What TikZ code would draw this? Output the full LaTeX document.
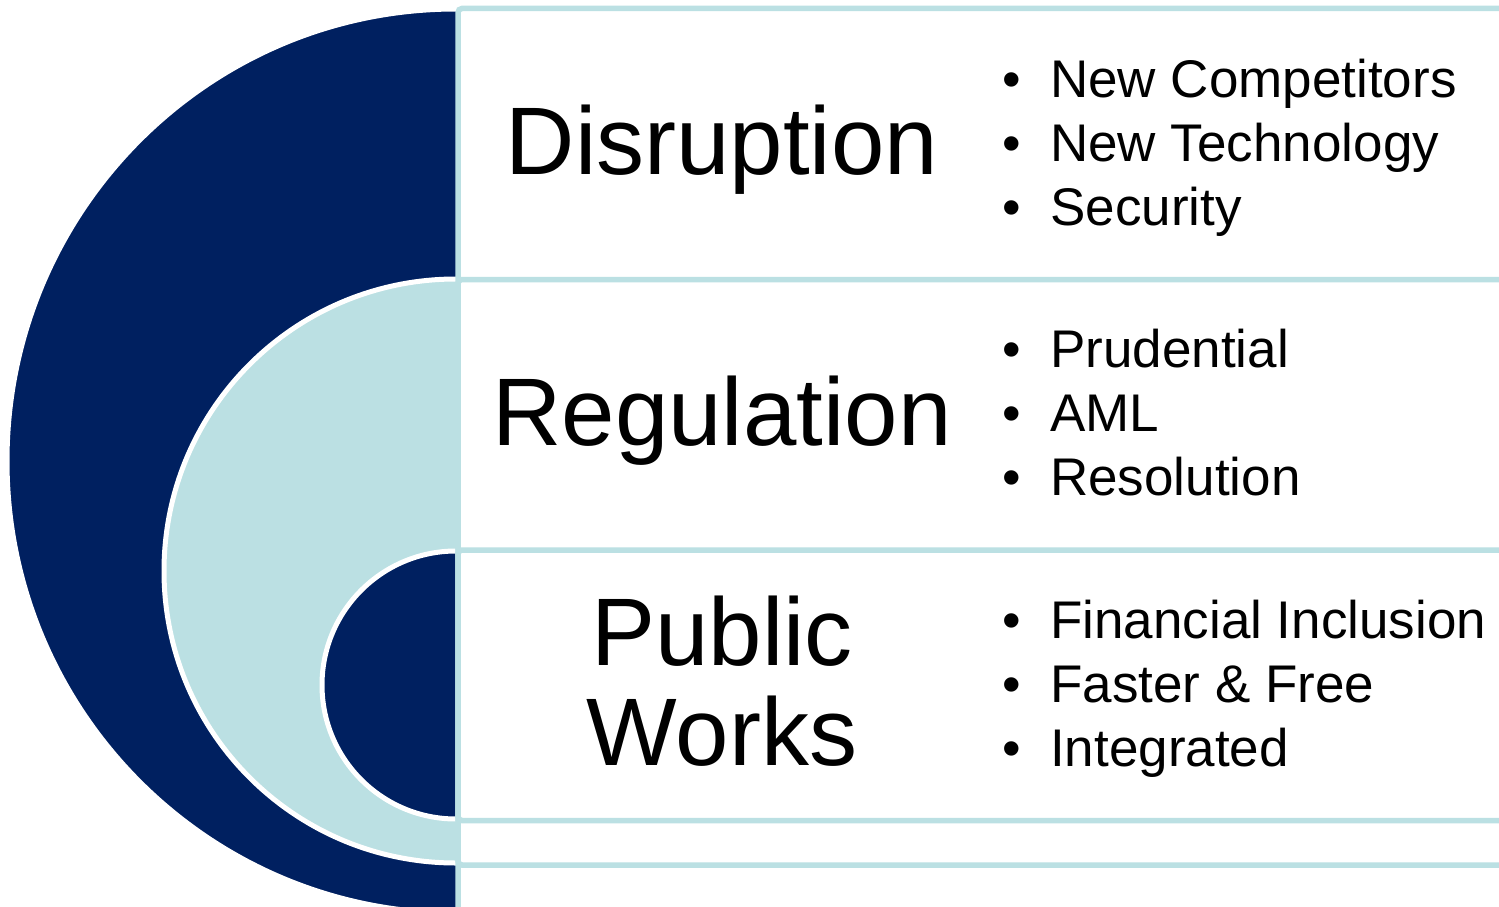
\documentclass[tikz,border=0pt]{standalone}
\usepackage{fontspec}
\setmainfont{Liberation Sans}
\definecolor{navy}{RGB}{0,32,96}
\definecolor{lblue}{RGB}{187,224,227}
\begin{document}
\begin{tikzpicture}[x=1pt,y=-1pt,
  disc/.style={draw=white, line width=5pt},
  panel/.style={draw=lblue, fill=white, line width=5.5pt, rounded corners=4pt},
  title/.style={font=\fontsize{96}{100}\selectfont, inner sep=0pt, anchor=base},
  item/.style={font=\fontsize{53}{64}\selectfont, inner sep=0pt, anchor=base west},
  dot/.style={font=\fontsize{53}{64}\selectfont, inner sep=0pt, anchor=base}]
\clip (0,0) rectangle (1499,907);
\fill[white] (0,0) rectangle (1499,907);
% nested half discs
\draw[disc, fill=navy] (456,461) ellipse [x radius=449, y radius=452];
\draw[disc, fill=lblue] (456,571) circle [radius=292];
\draw[disc, fill=navy] (456,685) circle [radius=134];
% panels
\draw[panel] (458,8.5) rectangle (1530,940);
\draw[panel] (458,279.5) rectangle (1530,865);
\draw[panel] (458,550) rectangle (1530,820.5);
% titles
\node[title] (t1) at (722,174) {Disruption};
\node[title] (t2) at (722,445) {Regulation};
\node[title] (t3a) at (722,665) {Public};
\node[title] (t3b) at (722,765) {Works};
% bullets section 1
\node[dot] (d11) at (1012,97) {•};
\node[item] (i11) at (1050,97) {New Competitors};
\node[dot] (d12) at (1012,161) {•};
\node[item] (i12) at (1050,161) {New Technology};
\node[dot] (d13) at (1012,225) {•};
\node[item] (i13) at (1050,225) {Security};
% bullets section 2
\node[dot] (d21) at (1012,367) {•};
\node[item] (i21) at (1050,367) {Prudential};
\node[dot] (d22) at (1012,431) {•};
\node[item] (i22) at (1050,431) {AML};
\node[dot] (d23) at (1012,495) {•};
\node[item] (i23) at (1050,495) {Resolution};
% bullets section 3
\node[dot] (d31) at (1012,638) {•};
\node[item] (i31) at (1050,638) {Financial Inclusion};
\node[dot] (d32) at (1012,702) {•};
\node[item] (i32) at (1050,702) {Faster \& Free};
\node[dot] (d33) at (1012,766) {•};
\node[item] (i33) at (1050,766) {Integrated};
\end{tikzpicture}
\end{document}
